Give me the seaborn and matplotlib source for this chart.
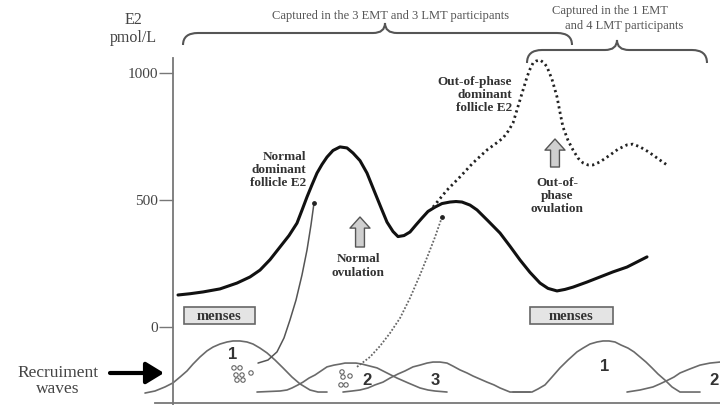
import matplotlib
matplotlib.use("Agg")
import matplotlib.pyplot as plt
from matplotlib.patches import Rectangle, PathPatch
from matplotlib.path import Path
import seaborn as sns

# Normal dominant follicle E2 (pmol/L) along the schematic cycle axis
e2_x = [178, 190, 203, 220, 237, 250, 260, 270, 280, 289, 297, 302, 307, 312, 317, 322,
        327, 333, 340, 347, 353, 360, 367, 375, 381, 387, 393, 398, 404, 410, 416, 422,
        428, 435, 442, 450, 456, 462, 470, 477, 488, 500, 510, 520, 530, 540, 548, 557,
        565, 573, 587, 600, 613, 627, 637, 647]
e2_y = [126, 131, 138, 150, 173, 197, 224, 265, 315, 360, 409, 460, 512, 560, 606, 640,
        669, 695, 709, 705, 685, 655, 606, 528, 470, 413, 376, 356, 360, 374, 402, 429,
        455, 472, 486, 492, 494, 492, 480, 461, 418, 370, 318, 264, 215, 173, 152, 142,
        148, 157, 177, 197, 217, 236, 256, 276]

# Out-of-phase dominant follicle E2 (dotted)
oop_x = [433, 447, 460, 473, 487, 495, 503, 508, 513, 520, 527, 530, 533, 536, 540, 544,
         547, 552, 557, 560, 563, 568, 573, 578, 583, 588, 593, 600, 610, 618, 627, 633,
         640, 647, 653, 660, 667]
oop_y = [472, 539, 591, 646, 697, 720, 744, 770, 803, 894, 984, 1015, 1039, 1047, 1051, 1040,
         1024, 975, 906, 845, 787, 735, 697, 665, 646, 638, 638, 650, 677, 700, 717, 720,
         709, 693, 677, 657, 638]

# Recruitment waves (schematic, drawn below the E2 zero line)
waves = {
    "1a": ([145, 155, 165, 173, 180, 187, 193, 200, 207, 213, 220, 227, 233, 240, 247, 253,
            260, 267, 275, 283, 292, 300, 310, 318, 327],
           [-260, -252, -236, -220, -197, -173, -146, -118, -94, -79, -67, -59, -55, -55, -59, -67,
            -83, -102, -130, -161, -197, -224, -248, -256, -256]),
    "2a": ([257, 280, 287, 292, 298, 303, 309, 315, 321, 327, 334, 340, 345, 350, 356, 362,
            370, 377, 387, 397, 408, 420, 428, 435, 447],
           [-256, -252, -248, -240, -228, -217, -201, -189, -173, -157, -150, -146, -142, -142, -142, -146,
            -154, -161, -181, -201, -220, -240, -248, -252, -256]),
    "3a": ([343, 352, 360, 368, 375, 383, 390, 398, 405, 413, 420, 427, 433, 440, 447, 453,
            460, 467, 473, 480, 487, 494, 500, 505, 510, 530],
           [-256, -252, -248, -240, -228, -217, -201, -185, -173, -157, -150, -142, -138, -138, -142, -154,
            -169, -181, -193, -205, -217, -228, -240, -248, -256, -256]),
    "1b": ([513, 532, 538, 545, 552, 560, 568, 577, 583, 590, 597, 603, 609, 615, 621, 628,
            634, 640, 646, 652, 658, 665, 672, 680, 700],
           [-256, -256, -244, -228, -197, -161, -130, -98, -83, -67, -59, -55, -55, -59, -71, -83,
            -98, -118, -138, -161, -185, -209, -236, -256, -256]),
    "2b": ([627, 640, 653, 660, 668, 674, 680, 690, 700, 710, 720],
           [-256, -248, -236, -224, -209, -197, -181, -165, -150, -142, -138]),
}
wave_labels = ["1", "2", "3", "1", "2"]
wave_label_x = [233, 367, 435, 605, 714]
wave_label_y = [-110, -209, -209, -157, -209]

# Follicles growing from a wave into the dominant follicle
path1_x = [258, 268, 277, 284, 290, 296, 302, 307, 311, 314]
path1_y = [-142, -130, -98, -43, 28, 106, 205, 303, 402, 488]
path2_x = [357, 370, 380, 390, 400, 410, 420, 428, 435, 442]
path2_y = [-157, -118, -75, -24, 35, 114, 205, 283, 354, 433]

foll1_x = [234, 240, 236, 242, 237, 243, 251]
foll1_y = [-161, -161, -189, -189, -209, -209, -181]
foll2_x = [342, 343, 350, 341, 346]
foll2_y = [-177, -197, -193, -228, -228]

yticks = [0, 500, 1000]

sns.set_theme(style="white")
plt.rcParams["font.family"] = ["Liberation Serif", "DejaVu Serif"]

PX = 500 / 127  # pmol/L per pixel of the picture


def Y(py):
    return (327 - py) * PX


fig = plt.figure(figsize=(7.2, 4.05), dpi=100)
ax = fig.add_axes([0, 0, 1, 1])
ax.set_xlim(0, 720)
ax.set_ylim(Y(405), Y(0))

# axes
for s in ["top", "right"]:
    ax.spines[s].set_visible(False)
ax.spines["left"].set_position(("data", 173))
ax.spines["left"].set_bounds(Y(405), Y(58))
ax.spines["bottom"].set_position(("data", Y(403)))
ax.spines["bottom"].set_bounds(155, 720)
for s in ["left", "bottom"]:
    ax.spines[s].set_color("#777777")
    ax.spines[s].set_linewidth(1.3)
ax.set_xticks([])
ax.set_yticks(yticks)
ax.set_yticklabels([str(t) for t in yticks], fontsize=11, color="#444444")
ax.tick_params(axis="y", direction="out", length=10, width=1, color="#777777", pad=1, left=True)

# curves
sns.lineplot(x=e2_x, y=e2_y, ax=ax, color="#111111", lw=2.2, sort=False, estimator=None)
sns.lineplot(x=oop_x, y=oop_y, ax=ax, color="#222222", lw=2.0, sort=False, estimator=None,
             linestyle=(0, (0.8, 1.2)))
for wx, wy in waves.values():
    sns.lineplot(x=wx, y=wy, ax=ax, color="#6a6a6a", lw=1.2, sort=False, estimator=None)

for lab, lx, ly in zip(wave_labels, wave_label_x, wave_label_y):
    ax.text(lx, ly, lab, fontsize=12, fontweight="bold", family="Liberation Sans",
            color="#333333", ha="center", va="center")

sns.lineplot(x=path1_x, y=path1_y, ax=ax, color="#555555", lw=1.1, sort=False, estimator=None)
sns.lineplot(x=path2_x, y=path2_y, ax=ax, color="#666666", lw=1.3, sort=False, estimator=None,
             linestyle=(0, (1, 1)))
ax.scatter([path1_x[-1], path2_x[-1]], [path1_y[-1], path2_y[-1]], s=6, color="#222222", zorder=5)
ax.scatter(foll1_x + foll2_x, foll1_y + foll2_y, s=10, facecolor="none",
           edgecolor="#666666", linewidth=0.8, zorder=5)

# axis title
ax.text(133, Y(20), "E2", fontsize=11.5, color="#444444", ha="center", va="center")
ax.text(133, Y(38), "pmol/L", fontsize=11.5, color="#444444", ha="center", va="center")


def brace(x0, x1, xc, y_end, y_h, y_c, r=15, r2=12):
    verts = [(x0, Y(y_end)), (x0, Y(y_h)), (x0 + r, Y(y_h)),
             (xc - r2, Y(y_h)), (xc, Y(y_h)), (xc, Y(y_c)),
             (xc, Y(y_h)), (xc + r2, Y(y_h)),
             (x1 - r, Y(y_h)), (x1, Y(y_h)), (x1, Y(y_end))]
    codes = [Path.MOVETO, Path.CURVE3, Path.CURVE3,
             Path.LINETO, Path.CURVE3, Path.CURVE3,
             Path.CURVE3, Path.CURVE3,
             Path.LINETO, Path.CURVE3, Path.CURVE3]
    ax.add_patch(PathPatch(Path(verts, codes), fill=False, ec="#555555", lw=1.5))


brace(183, 572, 385, 45, 33, 23)
brace(527, 707, 617, 63, 50, 40)

ax.text(391, Y(16), "Captured in the 3 EMT and 3 LMT participants", fontsize=9,
        color="#555555", ha="center", va="center")
ax.text(552, Y(11), "Captured in the 1 EMT", fontsize=9, color="#555555", ha="left", va="center")
ax.text(565, Y(26), "and 4 LMT participants", fontsize=9, color="#555555", ha="left", va="center")

bold = dict(fontsize=9.5, fontweight="bold", color="#333333", linespacing=1.15)
ax.text(306, Y(170), "Normal\ndominant\nfollicle E2", ha="right", va="center", **bold)
ax.text(358, Y(266), "Normal\novulation", ha="center", va="center", **bold)
ax.text(512, Y(95), "Out-of-phase\ndominant\nfollicle E2", ha="right", va="center", **bold)
ax.text(557, Y(196), "Out-of-\nphase\novulation", ha="center", va="center", **bold)

# ovulation block arrows
for ax_x, yb, yt in [(360, 247, 217), (555, 167, 139)]:
    ax.annotate("", xy=(ax_x, Y(yt)), xytext=(ax_x, Y(yb)),
                arrowprops=dict(arrowstyle="simple,head_length=0.5,head_width=0.9,tail_width=0.4",
                                mutation_scale=16, fc="#cfcfcf", ec="#555555", lw=1,
                                shrinkA=0, shrinkB=0))

# menses boxes
for bx0, bx1 in [(184, 255), (530, 613)]:
    ax.add_patch(Rectangle((bx0, Y(324)), bx1 - bx0, Y(307) - Y(324), fc="#e4e4e4",
                           ec="#666666", lw=1.2))
    ax.text((bx0 + bx1) / 2, Y(316), "menses", fontsize=10.5, fontweight="bold",
            color="#333333", ha="center", va="center")

# recruitment waves pointer
ax.text(58, Y(373), "Recruiment", fontsize=12.5, color="#444444", ha="center", va="center")
ax.text(58, Y(389), "waves", fontsize=12.5, color="#444444", ha="center", va="center")
ax.annotate("", xy=(164, Y(373)), xytext=(110, Y(373)),
            arrowprops=dict(arrowstyle="-|>,head_length=0.9,head_width=0.55", lw=3,
                            color="black", mutation_scale=12, shrinkA=0, shrinkB=0))

fig.savefig("out.png", dpi=100)
